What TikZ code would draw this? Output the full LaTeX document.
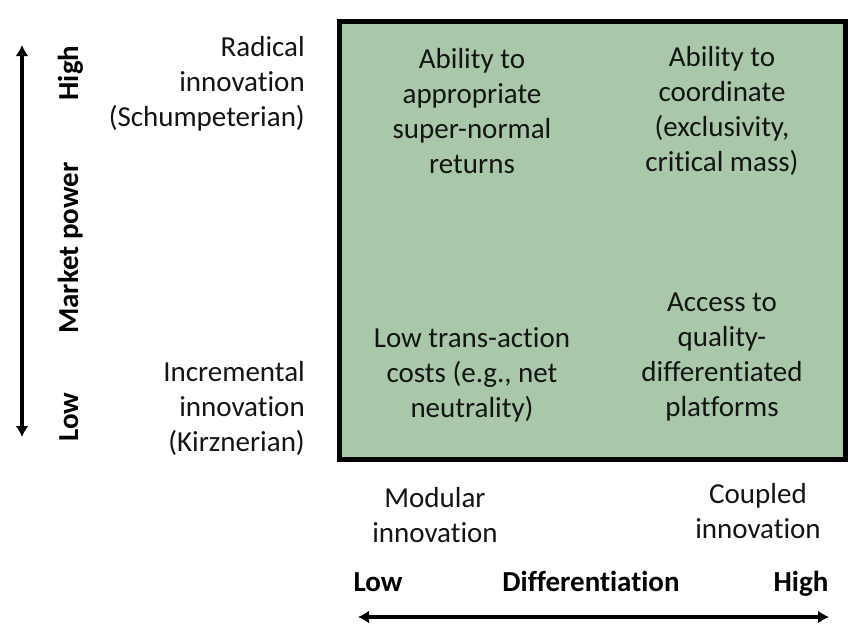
\documentclass[tikz,border=0pt]{standalone}
\usepackage{fontspec}
\setmainfont[Ligatures={NoCommon}]{Carlito}
\usetikzlibrary{arrows.meta}
\definecolor{cellgreen}{RGB}{169,200,170}
\definecolor{txt}{RGB}{20,20,20}
\tikzset{
  lbl/.style={inner sep=0pt, align=center, text=txt, font=\fontsize{29}{35}\selectfont},
  lblr/.style={lbl, align=right},
  axis/.style={font=\fontsize{29}{35}\selectfont\bfseries, inner sep=0pt, text=black, anchor=base},
  dblarrow/.style={line width=4pt, {Latex[length=11pt,width=13pt]}-{Latex[length=11pt,width=13pt]}},
  frame/.style={draw=black, line width=5pt, fill=cellgreen}
}
\begin{document}
\begin{tikzpicture}[x=1pt,y=-1pt]
\useasboundingbox (0,0) rectangle (852,625);
\draw[frame] (339.5,21.5) rectangle (845.5,459.5);
\node[lbl] (tl) at (472,111) {Ability to\\appropriate\\super-normal\\returns};
\node[lbl] (tr) at (722,111) {Ability to\\coordinate\\(exclusivity,\\critical mass)};
\node[lbl] (bl) at (472,375) {Low trans-action\\costs (e.g., net\\neutrality)};
\node[lbl] (br) at (722,357) {Access to\\quality-\\differentiated\\platforms};
\node[lblr, anchor=east] (rad) at (305,84) {Radical\\innovation\\(Schumpeterian)};
\node[lblr, anchor=east] (inc) at (305,408) {Incremental\\innovation\\(Kirznerian)};
\node[lbl] (mod) at (435,515) {Modular\\innovation};
\node[lbl] (cou) at (758,511) {Coupled\\innovation};
\node[axis] (xlow) at (378,591) {Low};
\node[axis] (xdiff) at (591,591) {Differentiation};
\node[axis] (xhigh) at (801,591) {High};
\coordinate (xa) at (358,617);
\coordinate (xb) at (829,617);
\draw[dblarrow] (xa) -- (xb);
\node[axis, rotate=90] (yhigh) at (78,73) {High};
\node[axis, rotate=90] (ymp) at (78,248) {Market power};
\node[axis, rotate=90] (ylow) at (78,417) {Low};
\coordinate (ya) at (22,45);
\coordinate (yb) at (22,437);
\draw[dblarrow] (ya) -- (yb);
\end{tikzpicture}
\end{document}
